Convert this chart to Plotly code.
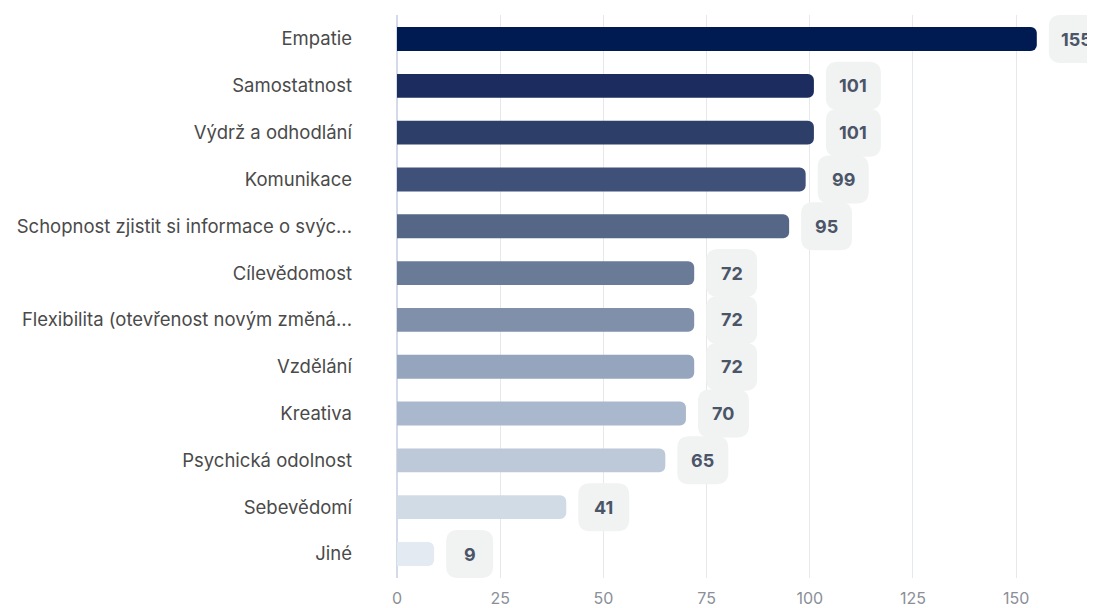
import plotly.graph_objects as go

categories = ["Empatie", "Samostatnost", "Výdrž a odhodlání", "Komunikace",
              "Schopnost zjistit si informace o svýc...", "Cílevědomost",
              "Flexibilita (otevřenost novým změná...", "Vzdělání", "Kreativa",
              "Psychická odolnost", "Sebevědomí", "Jiné"]
values = [155, 101, 101, 99, 95, 72, 72, 72, 70, 65, 41, 9]
colors = ["#001b52", "#1c2c5e", "#2d3e69", "#3f5178", "#556687", "#6a7b98",
          "#8090ab", "#95a5bd", "#a9b8cc", "#bdc9d9", "#d1dbe6", "#e4eaf2"]
x_ticks = [0, 25, 50, 75, 100, 125, 150]

fig = go.Figure()
fig.add_trace(go.Bar(
    x=values, y=categories, orientation="h",
    marker=dict(color=colors, cornerradius=6, line=dict(width=0)),
    hoverinfo="x+y",
))

def rounded_path(x0, x1, y0, y1, r):
    return (f"M {x0+r},{y0} L {x1-r},{y0} Q {x1},{y0} {x1},{y0+r} "
            f"L {x1},{y1-r} Q {x1},{y1} {x1-r},{y1} L {x0+r},{y1} "
            f"Q {x0},{y1} {x0},{y1-r} L {x0},{y0+r} Q {x0},{y0} {x0+r},{y0} Z")

for cat, v in zip(categories, values):
    w = 43 + 4 * len(str(v))
    gap = 12
    fig.add_shape(type="path", xref="x", yref="y",
                  xsizemode="pixel", ysizemode="pixel",
                  xanchor=v, yanchor=cat,
                  path=rounded_path(gap, gap + w, -24, 24, 12),
                  fillcolor="#f1f2f2", line=dict(width=0), layer="above")
    fig.add_annotation(x=v, y=cat, xref="x", yref="y", text=f"<b>{v}</b>",
                       showarrow=False, xanchor="center", yanchor="middle",
                       xshift=gap + w / 2,
                       font=dict(family="Inter", size=18, color="#4b5568",
                                 weight=600))

fig.update_layout(
    width=1087, height=600,
    margin=dict(l=389, r=0, t=7, b=30, autoexpand=False),
    paper_bgcolor="white", plot_bgcolor="white",
    bargap=0.49, showlegend=False,
    font=dict(family="Inter"),
)
fig.update_xaxes(range=[0, 169.1], tickvals=x_ticks, showgrid=True,
                 gridcolor="#e7e8ec", gridwidth=1, zeroline=True,
                 zerolinecolor="#d3dbea", zerolinewidth=2,
                 tickfont=dict(family="Inter", size=16, color="#8a8f98"),
                 ticks="", ticklabelstandoff=9, fixedrange=True,
                 automargin=False)
fig.update_yaxes(autorange="reversed", showgrid=False, ticks="",
                 tickfont=dict(family="Inter", size=18.5, color="#4a4a4a"),
                 ticklabelstandoff=44, fixedrange=True, automargin=False)

fig.write_html("out.html", config={"displayModeBar": False})
